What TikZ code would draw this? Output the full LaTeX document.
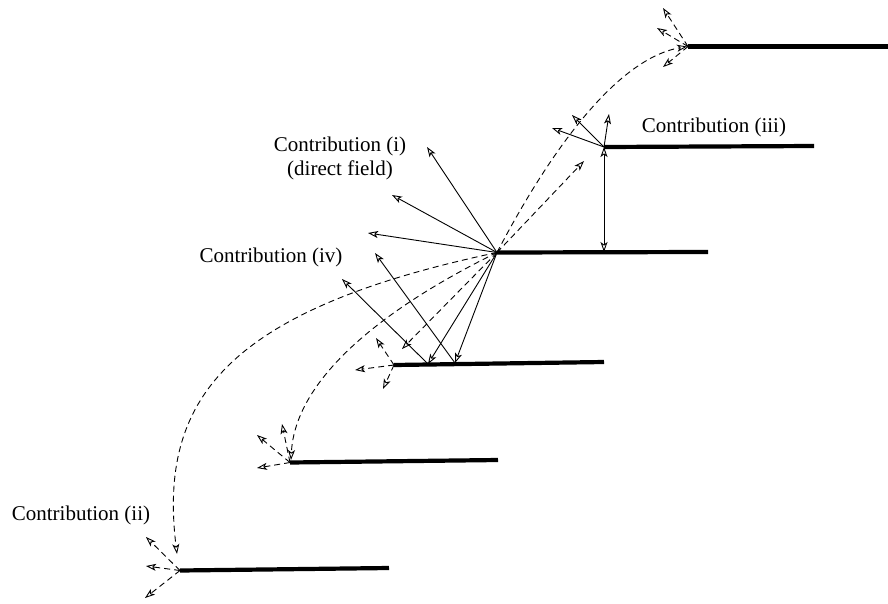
\documentclass[tikz,border=0pt]{standalone}
\usepackage{fontspec}
\setmainfont{Liberation Serif}
\usetikzlibrary{arrows.meta}
\tikzset{
  plate/.style={line width=4.2pt,line cap=butt},
  ray/.style={line width=0.9pt,-{Stealth[open,length=10pt,width=7pt,inset=2.5pt]}},
  dray/.style={ray,dash pattern=on 6pt off 4pt},
  both/.style={line width=0.9pt,{Stealth[open,length=10pt,width=7pt,inset=2.5pt]}-{Stealth[open,length=10pt,width=7pt,inset=2.5pt]}},
  lbl/.style={inner sep=0pt,font=\fontsize{21}{24}\selectfont,align=center}
}
\begin{document}
\begin{tikzpicture}[x=1pt,y=-1pt]
\useasboundingbox (0,0) rectangle (888,603);
% plate edges
\coordinate (U) at (688,46.5);  \coordinate (Ue) at (888,46.5);
\coordinate (Q) at (604,147);   \coordinate (Qe) at (814,146);
\coordinate (P) at (497,252.5); \coordinate (Pe) at (708,252);
\coordinate (R) at (394,365);   \coordinate (Re) at (604,362);
\coordinate (S) at (290,462.5); \coordinate (Se) at (498,460);
\coordinate (T) at (180,570.5); \coordinate (Te) at (389,568);
% plates
\draw[plate] (U) -- (Ue);
\draw[plate] (Q) -- (Qe);
\draw[plate] (P) -- (Pe);
\draw[plate] (R) -- (Re);
\draw[plate] (S) -- (Se);
\draw[plate] (T) -- (Te);
% labels
\node[lbl] (li) at (340,158) {Contribution (i)\\(direct field)};
\node[lbl] (liv) at (271,257) {Contribution (iv)};
\node[lbl] (liii) at (714,127) {Contribution (iii)};
\node[lbl] (lii) at (81,515) {Contribution (ii)};
% direct field rays from P
\coordinate (d1) at (427,147);
\coordinate (d2) at (392,195);
\coordinate (d3) at (368,233);
\draw[ray] (P) -- (d1);
\draw[ray] (P) -- (d2);
\draw[ray] (P) -- (d3);
% rays to lower plate and reflections (iv)
\coordinate (r1) at (428,364);
\coordinate (r2) at (455,363);
\coordinate (f1) at (342,279);
\coordinate (f2) at (375,253);
\draw[ray] (P) -- (r1);
\draw[ray] (P) -- (r2);
\draw[ray] (r1) -- (f1);
\draw[ray] (r2) -- (f2);
% contribution (iii)
\coordinate (Qb) at (604,252);
\draw[both] (Q) -- (Qb);
\coordinate (q1) at (552,128);
\coordinate (q2) at (572,115);
\coordinate (q3) at (609,114);
\draw[ray] (Q) -- (q1);
\draw[ray] (Q) -- (q2);
\draw[ray] (Q) -- (q3);
% dashed straight rays from P
\coordinate (s1) at (584,161);
\coordinate (s2) at (402,349);
\draw[dray] (P) -- (s1);
\draw[dray] (P) -- (s2);
% dashed curves (ii)
\coordinate (Ut) at (687,46.5);
\coordinate (St) at (291,460);
\coordinate (Tt) at (177,554);
\draw[dray] (P) .. controls (540,170) and (610,60) .. (Ut);
\draw[dray] (P) .. controls (380,310) and (295,380) .. (St);
\draw[dray] (P) .. controls (225,310) and (158,400) .. (Tt);
% scattered dashed rays at edges
\coordinate (u1) at (663,8);
\coordinate (u2) at (657,28);
\coordinate (u3) at (663,67);
\draw[dray] (U) -- (u1);
\draw[dray] (U) -- (u2);
\draw[dray] (U) -- (u3);
\coordinate (e1) at (355,370);
\coordinate (e2) at (376,338);
\coordinate (e3) at (383,389);
\draw[dray] (R) -- (e1);
\draw[dray] (R) -- (e2);
\draw[dray] (R) -- (e3);
\coordinate (g1) at (257,468);
\coordinate (g2) at (257,435);
\coordinate (g3) at (282,424);
\draw[dray] (S) -- (g1);
\draw[dray] (S) -- (g2);
\draw[dray] (S) -- (g3);
\coordinate (h1) at (146,537);
\coordinate (h2) at (146,566);
\coordinate (h3) at (145,598);
\draw[dray] (T) -- (h1);
\draw[dray] (T) -- (h2);
\draw[dray] (T) -- (h3);
\end{tikzpicture}
\end{document}
